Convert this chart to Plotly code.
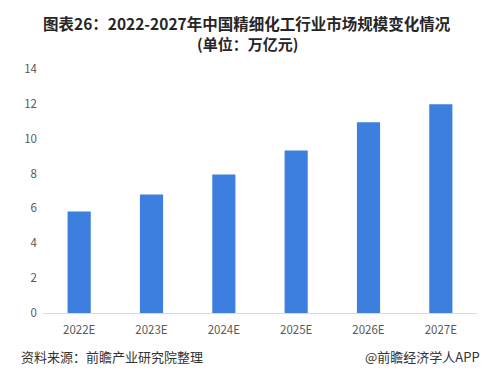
import plotly.graph_objects as go

categories = ["2022E", "2023E", "2024E", "2025E", "2026E", "2027E"]
values = [5.83, 6.80, 7.95, 9.33, 10.94, 11.98]
y_ticks = [0, 2, 4, 6, 8, 10, 12, 14]

OFF = 8  # page body margin
W, H = 499 - OFF, 383 - OFF
L, R, T, B = 43 - OFF, 22, 69 - OFF, 70

font_cjk = "Noto Sans CJK SC, Microsoft YaHei, sans-serif"

fig = go.Figure(go.Bar(
    x=categories, y=values,
    marker=dict(color="#3D7FDE", line=dict(width=0)),
    width=0.32,
))

plot_w = W - L - R
plot_h = H - T - B
def px(sx, sy):
    # screen pixel -> paper coords
    fx, fy = sx - OFF, sy - OFF
    return (fx - L) / plot_w, (H - B - fy) / plot_h

t1x, t1y = px(247, 23)
t2x, t2y = px(247, 43)
f1x, f1y = px(19, 356)
f2x, f2y = px(482, 356)

fig.update_layout(
    width=W, height=H,
    margin=dict(l=L, r=R, t=T, b=B),
    paper_bgcolor="white", plot_bgcolor="white",
    showlegend=False,
    font=dict(family=font_cjk, color="#595959", size=11),
    xaxis=dict(
        showgrid=False, showline=True, linecolor="#D9D9D9", linewidth=1,
        ticks="", tickfont=dict(size=11.5, color="#595959"),
        ticklabelstandoff=6,
    ),
    yaxis=dict(
        range=[0, 14], tickvals=y_ticks, showgrid=False, zeroline=False,
        showline=False, ticks="", ticklen=0,
        tickfont=dict(size=11.5, color="#595959"),
        ticklabelstandoff=5,
    ),
    annotations=[
        dict(text="<b>图表26：2022-2027年中国精细化工行业市场规模变化情况</b>",
             x=t1x, y=t1y, xref="paper", yref="paper", yanchor="middle", xanchor="center",
             showarrow=False, font=dict(size=15.5, color="#262626", family=font_cjk)),
        dict(text="<b>(单位：万亿元)</b>",
             x=t2x, y=t2y, xref="paper", yref="paper", yanchor="middle", xanchor="center",
             showarrow=False, font=dict(size=15, color="#262626", family=font_cjk)),
        dict(text="资料来源：前瞻产业研究院整理", x=f1x, y=f1y, xref="paper", yref="paper",
             showarrow=False, xanchor="left", yanchor="middle",
             font=dict(size=13, color="#333333", family=font_cjk)),
        dict(text="@前瞻经济学人APP", x=f2x, y=f2y, xref="paper", yref="paper",
             showarrow=False, xanchor="right", yanchor="middle",
             font=dict(size=13, color="#333333", family=font_cjk)),
    ],
)

fig.write_html("out.html")
